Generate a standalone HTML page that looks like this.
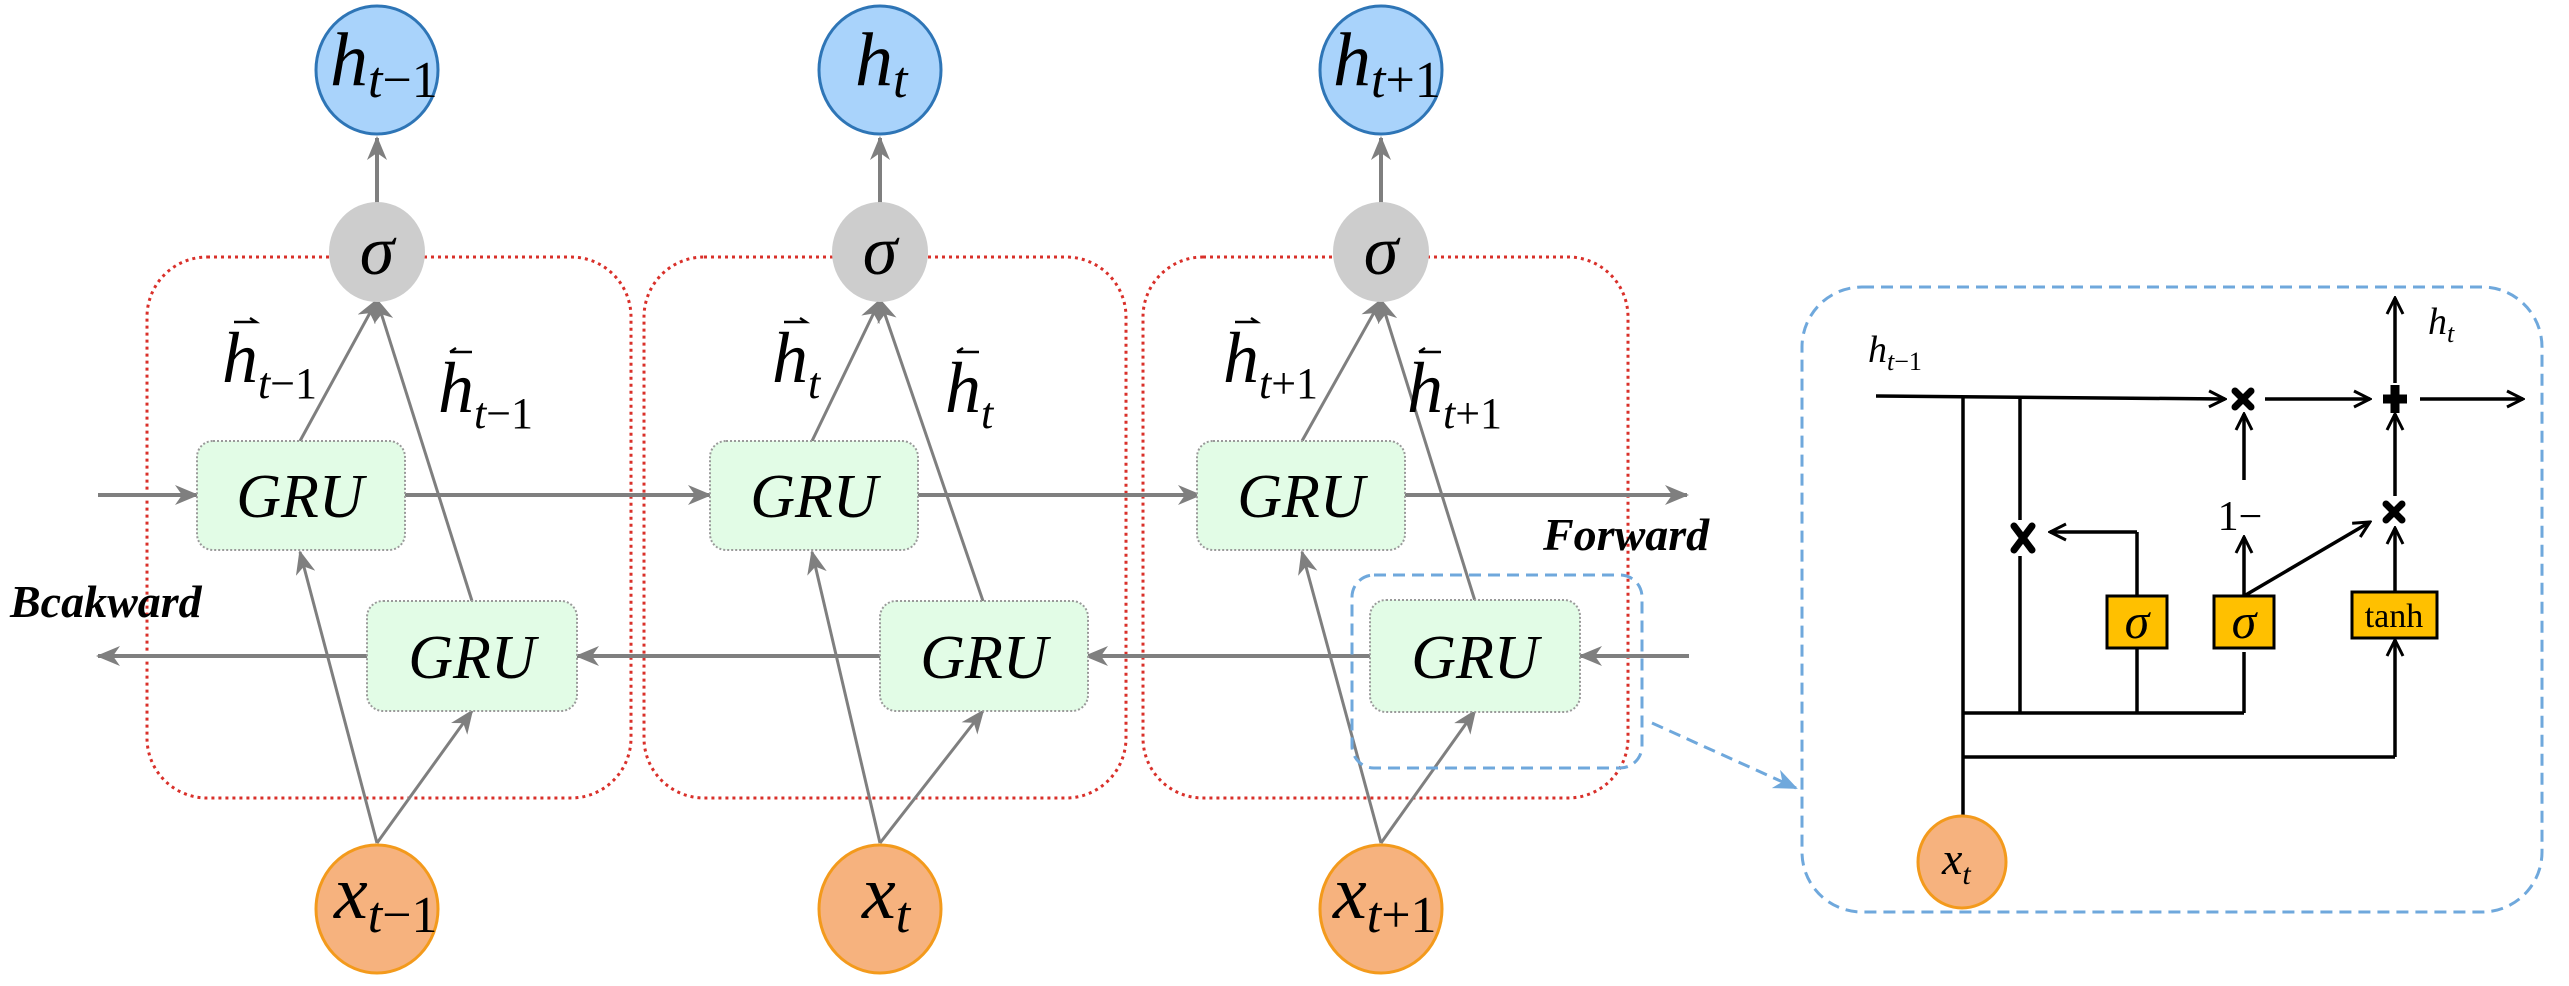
<!DOCTYPE html>
<html><head><meta charset="utf-8"><style>html,body{margin:0;padding:0;background:#fff}svg{display:block}svg text{font-family:"Liberation Serif","Times New Roman","DejaVu Serif",serif}</style></head>
<body>
<svg width="2569" height="986" viewBox="0 0 2569 986" xmlns="http://www.w3.org/2000/svg">
<defs>
<marker id="gb" viewBox="0 0 24 20" markerWidth="24" markerHeight="20" refX="22" refY="10" orient="auto" markerUnits="userSpaceOnUse"><path d="M0,0 L24,10 L0,20 L7,10 Z" fill="#7f7f7f"/></marker>
<marker id="ka" viewBox="0 0 20 20" markerWidth="20" markerHeight="20" refX="18" refY="10" orient="auto" markerUnits="userSpaceOnUse"><path d="M2,2 L18,10 L2,18" fill="none" stroke="#000" stroke-width="3"/></marker>
<marker id="ba" viewBox="0 0 24 20" markerWidth="24" markerHeight="20" refX="22" refY="10" orient="auto" markerUnits="userSpaceOnUse"><path d="M0,0 L24,10 L0,20 L7,10 Z" fill="#6fa8dc"/></marker>
</defs>

<g fill="none" stroke="#d9302a" stroke-width="3" stroke-dasharray="3,4">
<rect x="147" y="257" width="484" height="541" rx="60"/>
<rect x="644" y="257" width="482" height="541" rx="60"/>
<rect x="1143" y="257" width="485" height="541" rx="60"/>
</g>

<g stroke="#7f7f7f" stroke-width="4" fill="none">
<line x1="98" y1="495" x2="197" y2="495" marker-end="url(#gb)"/>
<line x1="405" y1="495" x2="710" y2="495" marker-end="url(#gb)"/>
<line x1="918" y1="495" x2="1200" y2="495" marker-end="url(#gb)"/>
<line x1="1405" y1="495" x2="1687" y2="495" marker-end="url(#gb)"/>
<line x1="1689" y1="656" x2="1580" y2="656" marker-end="url(#gb)"/>
<line x1="1370" y1="656" x2="1086" y2="656" marker-end="url(#gb)"/>
<line x1="880" y1="656" x2="577" y2="656" marker-end="url(#gb)"/>
<line x1="367" y1="656" x2="98" y2="656" marker-end="url(#gb)"/>
<line x1="377" y1="203" x2="377" y2="138" marker-end="url(#gb)"/>
<line x1="880" y1="203" x2="880" y2="138" marker-end="url(#gb)"/>
<line x1="1381" y1="203" x2="1381" y2="138" marker-end="url(#gb)"/>
</g>
<g stroke="#7f7f7f" stroke-width="3" fill="none">
<line x1="377" y1="843" x2="300" y2="552" marker-end="url(#gb)"/>
<line x1="377" y1="843" x2="472" y2="711" marker-end="url(#gb)"/>
<line x1="300" y1="441" x2="377" y2="300" marker-end="url(#gb)"/>
<line x1="472" y1="601" x2="377" y2="300" marker-end="url(#gb)"/>
<line x1="880" y1="843" x2="812" y2="552" marker-end="url(#gb)"/>
<line x1="880" y1="843" x2="983" y2="711" marker-end="url(#gb)"/>
<line x1="812" y1="441" x2="880" y2="300" marker-end="url(#gb)"/>
<line x1="983" y1="601" x2="880" y2="300" marker-end="url(#gb)"/>
<line x1="1381" y1="843" x2="1302" y2="552" marker-end="url(#gb)"/>
<line x1="1381" y1="843" x2="1475" y2="711" marker-end="url(#gb)"/>
<line x1="1302" y1="441" x2="1381" y2="300" marker-end="url(#gb)"/>
<line x1="1475" y1="601" x2="1381" y2="300" marker-end="url(#gb)"/>
</g>

<g fill="#e2fce6" stroke="#9a9a9a" stroke-width="2" stroke-dasharray="2,2">
<rect x="197" y="441" width="208" height="109" rx="16"/>
<rect x="710" y="441" width="208" height="109" rx="16"/>
<rect x="1197" y="441" width="208" height="109" rx="16"/>
<rect x="367" y="601" width="210" height="110" rx="16"/>
<rect x="880" y="601" width="208" height="110" rx="16"/>
<rect x="1370" y="600" width="210" height="112" rx="16"/>
</g>
<g font-style="italic" font-size="62" text-anchor="middle" fill="#000">
<text x="300" y="517">GRU</text>
<text x="814" y="517">GRU</text>
<text x="1301" y="517">GRU</text>
<text x="472" y="678">GRU</text>
<text x="984" y="678">GRU</text>
<text x="1475" y="678">GRU</text>
</g>

<g fill="#cdcdcd">
<ellipse cx="377" cy="252" rx="48" ry="50"/>
<ellipse cx="880" cy="252" rx="48" ry="50"/>
<ellipse cx="1381" cy="252" rx="48" ry="50"/>
</g>
<g font-style="italic" font-size="70" text-anchor="middle">
<text x="377" y="274">σ</text><text x="880" y="274">σ</text><text x="1381" y="274">σ</text>
</g>

<g fill="#a9d3fb" stroke="#2e75b6" stroke-width="3">
<ellipse cx="377" cy="70" rx="61" ry="64"/>
<ellipse cx="880" cy="70" rx="61" ry="64"/>
<ellipse cx="1381" cy="70" rx="61" ry="64"/>
</g>
<g font-style="italic" font-size="76">
<text x="330" y="85">h<tspan font-size="52" dy="12">t</tspan><tspan font-size="52" font-style="normal">−1</tspan></text>
<text x="855" y="85">h<tspan font-size="52" dy="12">t</tspan></text>
<text x="1333" y="85">h<tspan font-size="52" dy="12">t</tspan><tspan font-size="52" font-style="normal">+1</tspan></text>
</g>

<g fill="#f6b27e" stroke="#f39a1c" stroke-width="3">
<ellipse cx="377" cy="909" rx="61" ry="64"/>
<ellipse cx="880" cy="909" rx="61" ry="64"/>
<ellipse cx="1381" cy="909" rx="61" ry="64"/>
</g>
<g font-style="italic" font-size="76">
<text x="334" y="918">x<tspan font-size="52" dy="14">t</tspan><tspan font-size="52" font-style="normal">−1</tspan></text>
<text x="862" y="918">x<tspan font-size="52" dy="14">t</tspan></text>
<text x="1333" y="918">x<tspan font-size="52" dy="14">t</tspan><tspan font-size="52" font-style="normal">+1</tspan></text>
</g>

<g font-style="italic" font-size="72">
<text x="222" y="382">h<tspan font-size="44" dy="16">t</tspan><tspan font-size="44" font-style="normal">−1</tspan></text>
<text x="438" y="412">h<tspan font-size="44" dy="16">t</tspan><tspan font-size="44" font-style="normal">−1</tspan></text>
<text x="772" y="382">h<tspan font-size="44" dy="16">t</tspan></text>
<text x="945" y="412">h<tspan font-size="44" dy="16">t</tspan></text>
<text x="1223" y="382">h<tspan font-size="44" dy="16">t</tspan><tspan font-size="44" font-style="normal">+1</tspan></text>
<text x="1407" y="412">h<tspan font-size="44" dy="16">t</tspan><tspan font-size="44" font-style="normal">+1</tspan></text>
</g>
<g stroke="#000" stroke-width="2.5" fill="none">
<path d="M234,322 h22 l-6,-4"/><path d="M450,352 h22 M450,352 l6,-4"/>
<path d="M784,322 h22 l-6,-4"/><path d="M957,352 h22 M957,352 l6,-4"/>
<path d="M1235,322 h22 l-6,-4"/><path d="M1419,352 h22 M1419,352 l6,-4"/>
</g>

<text x="10" y="617" font-style="italic" font-weight="bold" font-size="46">Bcakward</text>
<text x="1543" y="550" font-style="italic" font-weight="bold" font-size="46">Forward</text>

<g fill="none" stroke="#6fa8dc" stroke-width="3" stroke-dasharray="12,7">
<rect x="1352" y="575" width="290" height="193" rx="22"/>
<rect x="1802" y="287" width="740" height="625" rx="60"/>
<line x1="1652" y1="723" x2="1796" y2="788" marker-end="url(#ba)"/>
</g>

<g stroke="#000" stroke-width="3.5" fill="none">
<line x1="1876" y1="396" x2="2225" y2="399" marker-end="url(#ka)"/>
<line x1="2265" y1="399" x2="2370" y2="399" marker-end="url(#ka)"/>
<line x1="2420" y1="399" x2="2523" y2="399" marker-end="url(#ka)"/>
<line x1="2395" y1="383" x2="2395" y2="298" marker-end="url(#ka)"/>
<line x1="1963" y1="397" x2="1963" y2="838"/>
<line x1="2020" y1="398" x2="2020" y2="520"/>
<line x1="2020" y1="556" x2="2020" y2="713"/>
<line x1="1963" y1="713" x2="2244" y2="713"/>
<line x1="1963" y1="757" x2="2395" y2="757"/>
<line x1="2395" y1="757" x2="2395" y2="640" marker-end="url(#ka)"/>
<line x1="2137" y1="713" x2="2137" y2="648"/>
<line x1="2137" y1="596" x2="2137" y2="532"/>
<line x1="2137" y1="532" x2="2050" y2="532" marker-end="url(#ka)"/>
<line x1="2244" y1="713" x2="2244" y2="652"/>
<line x1="2244" y1="596" x2="2244" y2="537" marker-end="url(#ka)"/>
<line x1="2244" y1="480" x2="2244" y2="414" marker-end="url(#ka)"/>
<line x1="2244" y1="596" x2="2370" y2="522" marker-end="url(#ka)"/>
<line x1="2395" y1="592" x2="2395" y2="528" marker-end="url(#ka)"/>
<line x1="2395" y1="496" x2="2395" y2="414" marker-end="url(#ka)"/>
</g>
<g stroke="#000" stroke-width="7" stroke-linecap="round">
<path d="M2235,391 l16,16 M2251,391 l-16,16"/>
<path d="M2014,526 l18,24 M2032,526 l-18,24"/>
<path d="M2386,504 l16,16 M2402,504 l-16,16"/>
<path d="M2383,399 h24 M2395,385 v28" stroke-width="9" stroke-linecap="butt"/>
</g>
<g fill="#ffc000" stroke="#000" stroke-width="3">
<rect x="2107" y="596" width="60" height="52"/>
<rect x="2214" y="596" width="60" height="52"/>
<rect x="2352" y="592" width="85" height="46"/>
</g>
<g text-anchor="middle" fill="#000">
<text x="2137" y="638" font-style="italic" font-size="50">σ</text>
<text x="2244" y="638" font-style="italic" font-size="50">σ</text>
<text x="2394" y="627" font-size="34">tanh</text>
<text x="2240" y="530" font-size="42">1−</text>
</g>
<text x="1868" y="362" font-style="italic" font-size="38">h<tspan font-size="26" dy="8">t</tspan><tspan font-size="26" font-style="normal">−1</tspan></text>
<text x="2428" y="334" font-style="italic" font-size="38">h<tspan font-size="26" dy="8">t</tspan></text>
<ellipse cx="1962" cy="862" rx="44" ry="46" fill="#f6b27e" stroke="#f39a1c" stroke-width="3"/>
<text x="1942" y="874" font-style="italic" font-size="46">x<tspan font-size="30" dy="10">t</tspan></text>
</svg>
</body></html>
